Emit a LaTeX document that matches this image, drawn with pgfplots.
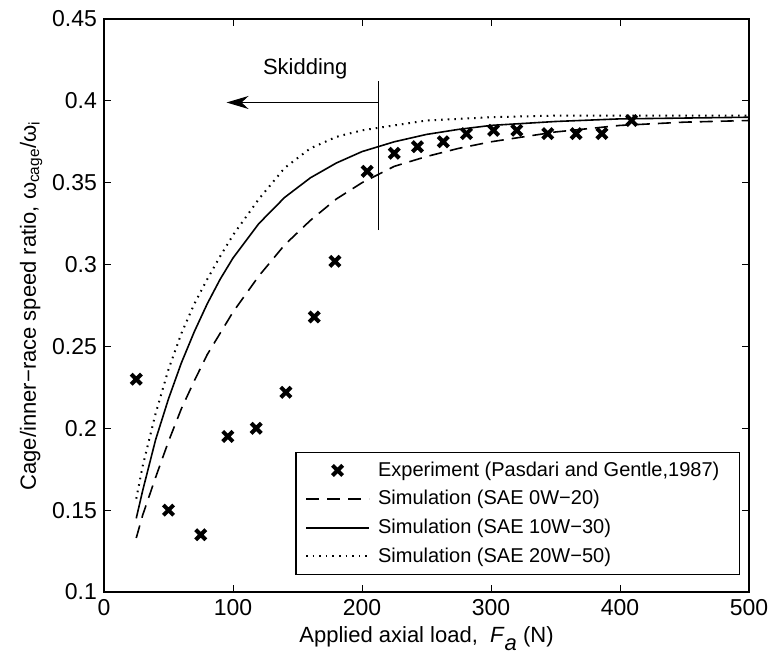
\documentclass[border=0pt]{standalone}
\usepackage{pgfplots}
\pgfplotsset{compat=1.18}
\usepackage{fontspec}
\setmainfont{Liberation Sans}
\usetikzlibrary{arrows.meta}
\newcommand{\legbox}{\pgfpathrectangle{\pgfpoint{0pt}{-1pt}}{\pgfpoint{34.5pt}{2pt}}\pgfusepath{use as bounding box}}
\pgfplotsset{
  mylinelegend/.style={legend image code/.code={\legbox\draw[##1] (0pt,0pt) -- (31.5pt,0pt);}},
  mymarklegend/.style={legend image code/.code={\legbox\draw[##1,only marks,mark repeat=2,mark phase=2] plot coordinates {(0pt,0pt) (15.75pt,0pt) (31.5pt,0pt)};}},
}
\begin{document}
\begin{tikzpicture}
\begin{axis}[
  scale only axis,
  width=322.5pt, height=286.5pt,
  xmin=0, xmax=500, ymin=0.1, ymax=0.45,
  xtick={0,100,...,500},
  ytick={0.1,0.15,0.2,0.25,0.3,0.35,0.4,0.45},
  yticklabels={0.1,0.15,0.2,0.25,0.3,0.35,0.4,0.45},
  tick align=inside, tick pos=both,
  major tick length=3.5pt,
  minor tick num=0,
  axis line style={line width=0.6pt},
  tick style={line width=0.5pt, black},
  /pgf/number format/assume math mode=true,
  ticklabel style={font=\fontsize{11.5}{13}\selectfont},
  xlabel={Applied axial load,\ \ \textit{F}\raisebox{-0.75ex}{\textit{a}} (N)},
  ylabel={Cage/inner−race speed ratio, ω\textsubscript{cage}/ω\textsubscript{i}},
  label style={font=\fontsize{11}{13}\selectfont},
  xlabel style={yshift=1.5pt},
  ylabel style={yshift=-2pt},
  legend style={at={(rel axis cs:0.986,0.03)}, anchor=south east,
    font=\fontsize{10}{12}\selectfont, draw=black, line width=0.6pt,
    inner xsep=5pt, inner ysep=3pt, row sep=2.6pt,
    nodes={inner sep=1.5pt}},
  legend cell align=left,
]
\addplot[only marks, mark=x, mark size=3.6pt, line width=2pt, black, mymarklegend]
coordinates {
(25,0.230) (50,0.150) (75,0.135) (96,0.195) (118,0.200) (141,0.222)
(163,0.268) (179,0.302) (204,0.357) (225,0.368) (243,0.372) (263,0.375)
(281,0.380) (302,0.382) (320,0.382) (344,0.380) (366,0.380) (386,0.380)
(409,0.388)
};
\addlegendentry{Experiment (Pasdari and Gentle,1987)\hspace*{3.5pt}}
\addplot[black, line width=0.8pt, dash pattern=on 6.5pt off 4pt, mylinelegend]
coordinates {
(25,0.133) (30,0.147) (40,0.170) (50,0.192) (60,0.212) (70,0.229)
(80,0.245) (90,0.258) (100,0.271) (120,0.293) (140,0.312) (160,0.327)
(180,0.340) (200,0.350) (225,0.360) (250,0.366) (275,0.371) (300,0.375)
(350,0.381) (400,0.385) (450,0.387) (500,0.388)
};
\addlegendentry{Simulation (SAE 0W−20)}
\addplot[black, line width=0.8pt, mylinelegend]
coordinates {
(25,0.145) (30,0.162) (40,0.193) (50,0.218) (60,0.240) (70,0.259)
(80,0.276) (90,0.291) (100,0.304) (120,0.325) (140,0.341) (160,0.353)
(180,0.362) (200,0.369) (225,0.375) (250,0.3795) (275,0.3826) (300,0.385)
(350,0.3874) (400,0.389) (450,0.3895) (500,0.390)
};
\addlegendentry{Simulation (SAE 10W−30)}
\addplot[black, line width=1pt, dash pattern=on 0.8pt off 2.5pt, mylinelegend]
coordinates {
(25,0.157) (30,0.177) (40,0.209) (50,0.236) (60,0.258) (70,0.276)
(80,0.291) (90,0.305) (100,0.318) (120,0.340) (140,0.359) (160,0.371)
(180,0.378) (200,0.382) (225,0.385) (250,0.388) (275,0.389) (300,0.390)
(350,0.391) (400,0.391) (450,0.391) (500,0.391)
};
\addlegendentry{Simulation (SAE 20W−50)}
\draw[line width=0.5pt] (axis cs:213,0.321) -- (axis cs:213,0.412);
\draw[line width=0.5pt, -{Stealth[length=11pt, width=6.5pt, inset=3.5pt]}] (axis cs:213,0.399) -- (axis cs:95,0.399);
\node[font=\fontsize{11}{13}\selectfont] at (axis cs:156,0.4195) {Skidding};
\end{axis}
\pgfresetboundingbox
\path[use as bounding box] ([xshift=-52pt,yshift=-33pt]current axis.south west) rectangle ([xshift=11pt,yshift=9.5pt]current axis.north east);
\end{tikzpicture}
\end{document}
